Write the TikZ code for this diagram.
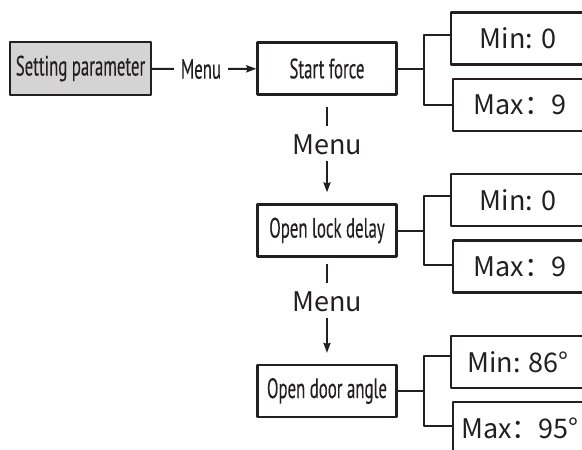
\documentclass[tikz,border=0pt]{standalone}
\usepackage{fontspec}
\usetikzlibrary{arrows.meta}
\newfontfamily\cjk{Noto Sans CJK SC}
\newfontfamily\narrow[FakeStretch=0.6,FakeBold=0.2]{PT Sans}
\definecolor{ink}{HTML}{231F20}
\definecolor{boxgray}{HTML}{D4D4D4}
\begin{document}
\begin{tikzpicture}[x=1pt,y=-1pt,>={Stealth[length=10pt,width=7pt,inset=1pt]}, line join=round, color=ink,
	font=\narrow\fontsize{28}{30}\selectfont,
	box/.style={draw, line width=2.2pt, minimum height=52pt, inner sep=0pt},
	itembox/.style={box, minimum width=139pt},
	valbox/.style={box, minimum width=134pt, font=\cjk\fontsize{27}{30}\selectfont},
	link/.style={line width=2pt},
	hmenu/.style={inner xsep=7pt, inner ysep=0pt},
	vmenu/.style={font=\cjk\fontsize{27}{30}\selectfont, inner xsep=2pt, inner ysep=6.5pt, text height=22pt, text depth=0pt}]
	\useasboundingbox (0,0) rectangle (582,450);
	\clip (0,0) rectangle (582,450);
	% main column
	\node[box, fill=boxgray, minimum width=141pt, minimum height=53pt] (setp) at (80.5,68.5) {Setting parameter};
	\node[hmenu] (m0) at (201,69) {Menu};
	\node[itembox] (start) at (327,68.5) {Start force};
	\node[vmenu] (m1) at (327,143.5) {Menu};
	\node[itembox] (lock) at (327,230.5) {Open lock delay};
	\node[vmenu] (m2) at (327,300.5) {Menu};
	\node[itembox] (door) at (327,391) {Open door angle};
	% values
	\node[valbox] (min1) at (518,38.5) {Min: 0};
	\node[valbox] (max1) at (520,105) {Max：9};
	\node[valbox] (min2) at (518,200) {Min: 0};
	\node[valbox] (max2) at (520,266.5) {Max：9};
	\node[valbox] (min3) at (518,362) {Min: 86°};
	\node[valbox] (max3) at (520,428) {Max：95°};
	\draw[link] (setp) -- (m0);
	\draw[link,->] (m0) -- (start);
	\draw[link, shorten <=11pt] (start) -- (m1);
	\draw[link,->, shorten >=11pt] (m1) -- (lock);
	\draw[link, shorten <=6pt] (lock) -- (m2);
	\draw[link,->, shorten >=11pt] (m2) -- (door);
	% brackets
	\draw[link] (start.east) -- ++(26,0) coordinate (k1);
	\draw[link] ([yshift=4pt]min1.west) -| (k1) |- (max1.west);
	\draw[link] (lock.east) -- ++(26,0) coordinate (k2);
	\draw[link] ([yshift=4pt]min2.west) -| (k2) |- ([yshift=1.5pt]max2.west);
	\draw[link] (door.east) -- ++(26,0) coordinate (k3);
	\draw[link] ([yshift=6pt]min3.west) -| (k3) |- ([yshift=2pt]max3.west);
\end{tikzpicture}
\end{document}
